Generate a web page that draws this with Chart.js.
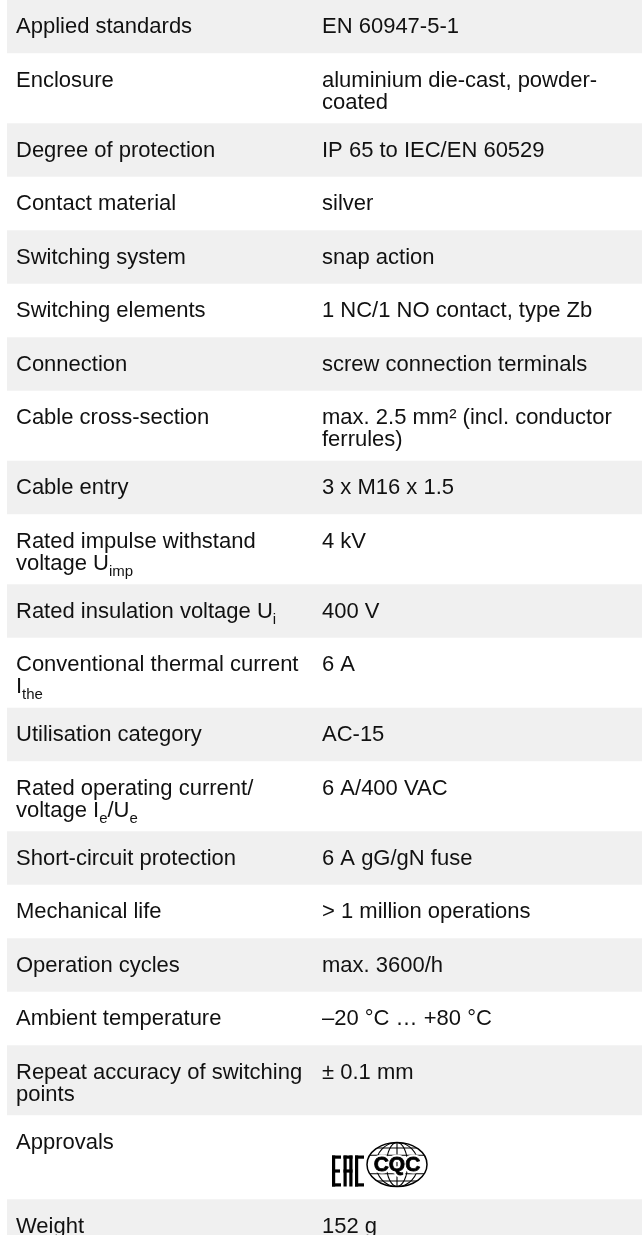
<!DOCTYPE html>
<html>
<head>
<meta charset="utf-8">
<script src="https://cdn.jsdelivr.net/npm/chart.js@4.4.1/dist/chart.umd.min.js"></script>
<style>
  html, body { margin: 0; padding: 0; background: #fff; }
  #wrap { position: relative; width: 642px; height: 1235px; }
</style>
</head>
<body>
<div id="wrap"><canvas id="spec"></canvas></div>
<script>
// table content: '\n' = line break, _{..} = subscript
const specLabels = [
  'Applied standards',
  'Enclosure',
  'Degree of protection',
  'Contact material',
  'Switching system',
  'Switching elements',
  'Connection',
  'Cable cross-section',
  'Cable entry',
  'Rated impulse withstand\nvoltage U_{imp}',
  'Rated insulation voltage U_{i}',
  'Conventional thermal current\nI_{the}',
  'Utilisation category',
  'Rated operating current/\nvoltage I_{e}/U_{e}',
  'Short-circuit protection',
  'Mechanical life',
  'Operation cycles',
  'Ambient temperature',
  'Repeat accuracy of switching\npoints',
  'Approvals',
  'Weight'
];

const specValues = [
  'EN 60947-5-1',
  'aluminium die-cast, powder-\ncoated',
  'IP 65 to IEC/EN 60529',
  'silver',
  'snap action',
  '1 NC/1 NO contact, type Zb',
  'screw connection terminals',
  'max. 2.5 mm\u00b2 (incl. conductor\nferrules)',
  '3 x M16 x 1.5',
  '4 kV',
  '400 V',
  '6 A',
  'AC-15',
  '6 A/400 VAC',
  '6 A gG/gN fuse',
  '> 1 million operations',
  'max. 3600/h',
  '\u201320 \u00b0C \u2026 +80 \u00b0C',
  '\u00b1 0.1 mm',
  '',
  '152 g'
];

// approval marks shown in the 'Approvals' row
const approvalMarks = ['EAC', 'CQC'];

const GREY = '#f0f0f0';
const TEXT = '#111';
const FONT = '"Liberation Sans", Arial, sans-serif';
const FONT_SIZE = 22;
const SUB_SIZE = 15;
const LINE_GAP = 22;
const FIRST_BASE = 33;
const LABEL_X = 16;
const VALUE_X = 322;

function lineCount(s) { return s ? s.split('\n').length : 1; }

function rowHeight(i) {
  if (specLabels[i] === 'Approvals') return 84;
  const n = Math.max(lineCount(specLabels[i]), lineCount(specValues[i]));
  return n === 1 ? 53.5 : 70;
}

// cumulative row bounds (in px units of the y scale)
const Y_START = -1;
const rowBounds = [];
let acc = Y_START;
for (let i = 0; i < specLabels.length; i++) {
  const h = rowHeight(i);
  rowBounds.push([acc, acc + h]);
  acc += h;
}

function drawRich(ctx, text, x, y) {
  const parts = text.split(/(_\{[^}]*\})/);
  let cx = x;
  for (const p of parts) {
    if (!p) continue;
    if (p.startsWith('_{')) {
      const t = p.slice(2, -1);
      ctx.font = SUB_SIZE + 'px ' + FONT;
      ctx.fillText(t, cx, y + 6);
      cx += ctx.measureText(t).width;
    } else {
      ctx.font = FONT_SIZE + 'px ' + FONT;
      ctx.fillText(p, cx, y);
      cx += ctx.measureText(p).width;
    }
  }
}

function drawEAC(ctx, x, bottom) {
  const h = 31, w = 9, s = 3.2, gap = 2.5;
  const top = bottom - h;
  ctx.fillStyle = '#000';
  // E
  ctx.fillRect(x, top, s, h);
  ctx.fillRect(x, top, w, s);
  ctx.fillRect(x, top + h / 2 - s / 2, w - 1, s);
  ctx.fillRect(x, bottom - s, w, s);
  // A
  const ax = x + w + gap;
  ctx.fillRect(ax, top, s, h);
  ctx.fillRect(ax + w - s, top, s, h);
  ctx.fillRect(ax, top, w, s);
  ctx.fillRect(ax, top + h / 2 - s / 2, w, s);
  // C
  const cx = ax + w + gap;
  ctx.fillRect(cx, top, s, h);
  ctx.fillRect(cx, top, w, s);
  ctx.fillRect(cx, bottom - s, w, s);
}

function drawCQC(ctx, cx, cy, rx, ry) {
  ctx.save();
  ctx.strokeStyle = '#000';
  ctx.lineWidth = 1.5;
  ctx.fillStyle = '#fff';
  ctx.beginPath();
  ctx.ellipse(cx, cy, rx, ry, 0, 0, Math.PI * 2);
  ctx.fill();
  ctx.stroke();
  ctx.beginPath();
  ctx.ellipse(cx, cy, rx, ry, 0, 0, Math.PI * 2);
  ctx.clip();
  ctx.lineWidth = 1.1;
  for (const f of [0.35, 0.7]) {
    ctx.beginPath();
    ctx.ellipse(cx, cy, rx * f, ry, 0, 0, Math.PI * 2);
    ctx.stroke();
  }
  ctx.beginPath();
  ctx.moveTo(cx, cy - ry); ctx.lineTo(cx, cy + ry);
  for (const f of [-0.75, -0.42, 0.42, 0.75]) {
    ctx.moveTo(cx - rx, cy + ry * f); ctx.lineTo(cx + rx, cy + ry * f);
  }
  ctx.stroke();
  ctx.restore();
  // heavy letters with a white halo
  ctx.save();
  ctx.font = '900 ' + Math.round(ry * 0.95) + 'px ' + FONT;
  ctx.textAlign = 'center';
  ctx.textBaseline = 'middle';
  ctx.lineJoin = 'round';
  ctx.strokeStyle = '#fff';
  ctx.lineWidth = 5;
  ctx.strokeText('CQC', cx, cy + 1);
  ctx.fillStyle = '#000';
  ctx.fillText('CQC', cx, cy + 1);
  ctx.strokeStyle = '#000';
  ctx.lineWidth = 0.8;
  ctx.strokeText('CQC', cx, cy + 1);
  ctx.restore();
}

const tableText = {
  id: 'tableText',
  afterDatasetsDraw(chart) {
    const ctx = chart.ctx;
    const yScale = chart.scales.y;
    ctx.save();
    ctx.fillStyle = TEXT;
    ctx.textBaseline = 'alphabetic';
    ctx.textAlign = 'left';
    specLabels.forEach((label, i) => {
      const top = yScale.getPixelForValue(rowBounds[i][0]);
      label.split('\n').forEach((ln, k) => drawRich(ctx, ln, LABEL_X, top + FIRST_BASE + k * LINE_GAP));
      if (specValues[i]) {
        specValues[i].split('\n').forEach((ln, k) => drawRich(ctx, ln, VALUE_X, top + FIRST_BASE + k * LINE_GAP));
      }
      if (label === 'Approvals') {
        const bottom = yScale.getPixelForValue(rowBounds[i][1]) - 13;
        approvalMarks.forEach(m => {
          if (m === 'EAC') drawEAC(ctx, VALUE_X + 10, bottom);
          if (m === 'CQC') drawCQC(ctx, VALUE_X + 75, bottom - 22, 30, 22);
        });
        ctx.fillStyle = TEXT;
      }
    });
    ctx.restore();
  }
};

new Chart(document.getElementById('spec'), {
  type: 'bar',
  data: {
    labels: ['spec'],
    datasets: [{
      data: rowBounds.map(b => ({ x: 'spec', y: b })),
      backgroundColor: rowBounds.map((b, i) => (i % 2 === 0 ? GREY : '#ffffff')),
      borderWidth: 0,
      categoryPercentage: 1,
      barPercentage: 1
    }]
  },
  options: {
    responsive: true,
    maintainAspectRatio: false,
    animation: false,
    events: [],
    layout: { padding: { left: 7, right: 0, top: 0, bottom: 0 } },
    scales: {
      x: { type: 'category', display: false },
      y: { type: 'linear', display: false, reverse: true, min: Y_START, max: Y_START + 1235 }
    },
    plugins: {
      legend: { display: false },
      tooltip: { enabled: false }
    }
  },
  plugins: [tableText]
});
</script>
</body>
</html>
